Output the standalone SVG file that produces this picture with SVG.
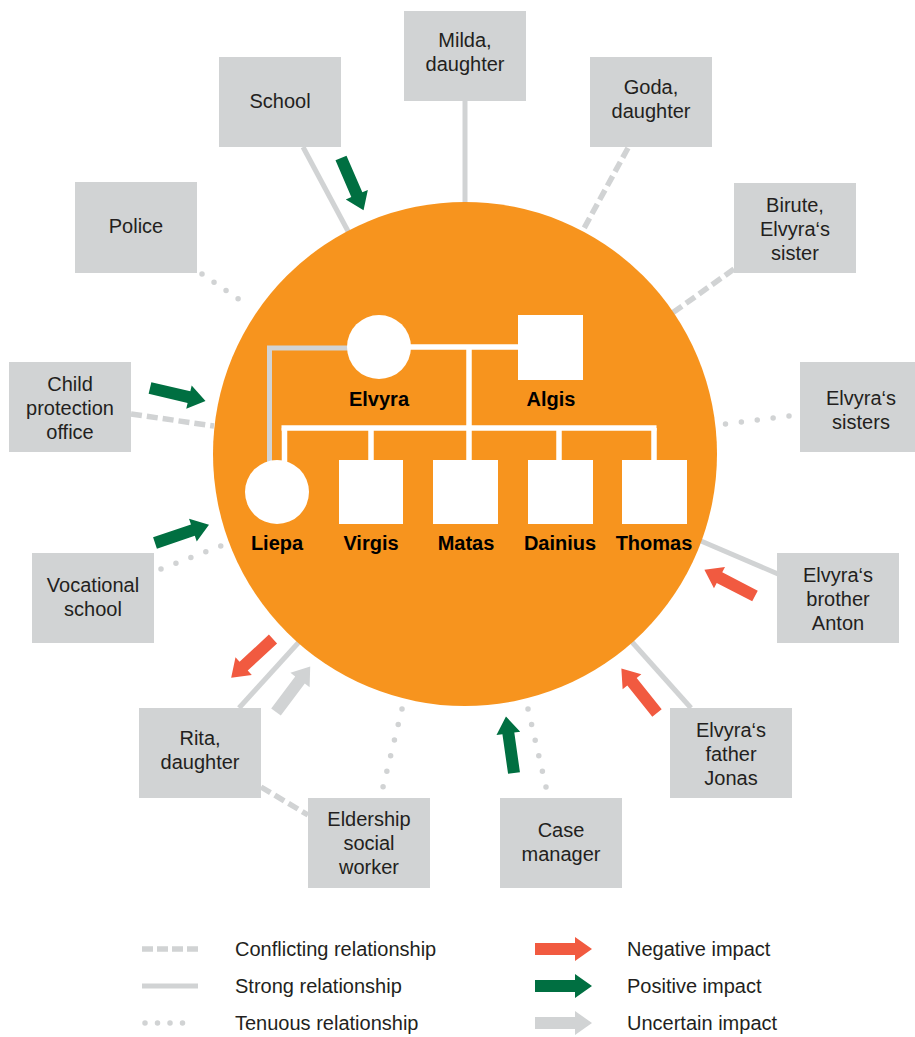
<svg xmlns="http://www.w3.org/2000/svg" xmlns:xlink="http://www.w3.org/1999/xlink" width="915" height="1037" viewBox="0 0 915 1037">
  <style>
    .box { fill: #D1D3D4; }
    .lbl { font-family: "Liberation Sans", Arial, sans-serif; font-size: 20px; fill: #231F20; text-anchor: middle; }
    .name { font-family: "Liberation Sans", Arial, sans-serif; font-size: 20px; font-weight: bold; fill: #000; text-anchor: middle; }
    .leg { font-family: "Liberation Sans", Arial, sans-serif; font-size: 20px; fill: #231F20; }
    .solid { stroke: #D1D3D4; stroke-width: 5; fill: none; }
    .dashed { stroke: #D1D3D4; stroke-width: 5.5; fill: none; stroke-dasharray: 11 5; }
    .dotted { stroke: #D1D3D4; stroke-width: 5.5; fill: none; stroke-dasharray: 0 16; stroke-linecap: round; }
    .tie { stroke: #FFFFFF; stroke-width: 5.5; fill: none; }
    .neg { fill: #F15A40; }
    .pos { fill: #006F41; }
    .unc { fill: #D1D3D4; }
  </style>
  <defs>
    <!-- block arrow pointing along +x, tail at origin, tip at x=57 -->
    <path id="arrow" d="M0,-6 H40 V-12 L57,0 L40,12 V6 H0 Z"/>
  </defs>

  <!-- relationship lines -->
  <g id="connectors">
    <line class="solid" x1="465" y1="101" x2="465" y2="204"/>
    <line class="dashed" x1="628" y1="148" x2="582" y2="232"/>
    <line class="solid" x1="303" y1="147" x2="349" y2="233"/>
    <line class="dotted" x1="202" y1="274" x2="250" y2="307" style="stroke-dasharray:0 14.6"/>
    <line class="dashed" x1="734" y1="269" x2="671" y2="314"/>
    <line class="dotted" x1="789" y1="416" x2="725" y2="424"/>
    <line class="dashed" x1="131" y1="414" x2="214" y2="426"/>
    <line class="dotted" x1="161" y1="569" x2="221" y2="546"/>
    <line class="solid" x1="701" y1="541" x2="778" y2="574"/>
    <line class="solid" x1="632" y1="642" x2="691" y2="708"/>
    <line class="dotted" x1="528" y1="709" x2="546" y2="787"/>
    <line class="dotted" x1="402" y1="709" x2="383" y2="787"/>
    <line class="solid" x1="239" y1="708" x2="299" y2="642"/>
    <line class="dashed" x1="261" y1="787" x2="308" y2="815"/>
  </g>

  <!-- household circle with genogram -->
  <g id="household">
    <circle cx="465" cy="454" r="252" fill="#F7941E"/>
    <polyline points="350,348 269.5,348 269.5,462" stroke="#D1D3D4" stroke-width="5" fill="none"/>
    <line class="tie" x1="400" y1="347" x2="520" y2="347"/>
    <line class="tie" x1="469" y1="347" x2="469" y2="428"/>
    <line class="tie" x1="281.5" y1="428" x2="656.5" y2="428"/>
    <line class="tie" x1="284.5" y1="428" x2="284.5" y2="462"/>
    <line class="tie" x1="371" y1="428" x2="371" y2="462"/>
    <line class="tie" x1="469" y1="428" x2="469" y2="462"/>
    <line class="tie" x1="559" y1="428" x2="559" y2="462"/>
    <line class="tie" x1="654" y1="428" x2="654" y2="462"/>
    <g id="elvyra">
      <circle cx="379" cy="347" r="32" fill="#FFFFFF"/>
      <text class="name" x="379" y="406">Elvyra</text>
    </g>
    <g id="algis">
      <rect x="518" y="315" width="65" height="65" fill="#FFFFFF"/>
      <text class="name" x="551" y="406">Algis</text>
    </g>
    <g id="liepa">
      <circle cx="277" cy="492" r="32" fill="#FFFFFF"/>
      <text class="name" x="277" y="550">Liepa</text>
    </g>
    <g id="virgis">
      <rect x="339" y="460" width="64" height="64" fill="#FFFFFF"/>
      <text class="name" x="371" y="550">Virgis</text>
    </g>
    <g id="matas">
      <rect x="433" y="460" width="65" height="64" fill="#FFFFFF"/>
      <text class="name" x="466" y="550">Matas</text>
    </g>
    <g id="dainius">
      <rect x="528" y="460" width="65" height="64" fill="#FFFFFF"/>
      <text class="name" x="560" y="550">Dainius</text>
    </g>
    <g id="thomas">
      <rect x="622" y="460" width="65" height="64" fill="#FFFFFF"/>
      <text class="name" x="654" y="550">Thomas</text>
    </g>
  </g>

  <!-- outside contacts -->
  <g id="milda">
    <rect class="box" x="404" y="11" width="122" height="90"/>
    <text class="lbl" x="465" y="47">Milda,</text>
    <text class="lbl" x="465" y="71">daughter</text>
  </g>
  <g id="goda">
    <rect class="box" x="590" y="57" width="122" height="90"/>
    <text class="lbl" x="651" y="94">Goda,</text>
    <text class="lbl" x="651" y="118">daughter</text>
  </g>
  <g id="school">
    <rect class="box" x="219" y="57" width="122" height="90"/>
    <text class="lbl" x="280" y="108">School</text>
  </g>
  <g id="police">
    <rect class="box" x="75" y="182" width="122" height="91"/>
    <text class="lbl" x="136" y="233">Police</text>
  </g>
  <g id="birute">
    <rect class="box" x="734" y="183" width="122" height="90"/>
    <text class="lbl" x="795" y="212">Birute,</text>
    <text class="lbl" x="795" y="236">Elvyra‘s</text>
    <text class="lbl" x="795" y="260">sister</text>
  </g>
  <g id="sisters">
    <rect class="box" x="800" y="362" width="122" height="90"/>
    <text class="lbl" x="861" y="405">Elvyra‘s</text>
    <text class="lbl" x="861" y="429">sisters</text>
  </g>
  <g id="child-protection">
    <rect class="box" x="9" y="362" width="122" height="90"/>
    <text class="lbl" x="70" y="391">Child</text>
    <text class="lbl" x="70" y="415">protection</text>
    <text class="lbl" x="70" y="439">office</text>
  </g>
  <g id="vocational">
    <rect class="box" x="32" y="553" width="122" height="90"/>
    <text class="lbl" x="93" y="592">Vocational</text>
    <text class="lbl" x="93" y="616">school</text>
  </g>
  <g id="anton">
    <rect class="box" x="777" y="553" width="122" height="90"/>
    <text class="lbl" x="838" y="582">Elvyra‘s</text>
    <text class="lbl" x="838" y="606">brother</text>
    <text class="lbl" x="838" y="630">Anton</text>
  </g>
  <g id="jonas">
    <rect class="box" x="670" y="708" width="122" height="90"/>
    <text class="lbl" x="731" y="737">Elvyra‘s</text>
    <text class="lbl" x="731" y="761">father</text>
    <text class="lbl" x="731" y="785">Jonas</text>
  </g>
  <g id="rita">
    <rect class="box" x="139" y="708" width="122" height="90"/>
    <text class="lbl" x="200" y="745">Rita,</text>
    <text class="lbl" x="200" y="769">daughter</text>
  </g>
  <g id="eldership">
    <rect class="box" x="308" y="798" width="122" height="90"/>
    <text class="lbl" x="369" y="826">Eldership</text>
    <text class="lbl" x="369" y="850">social</text>
    <text class="lbl" x="369" y="874">worker</text>
  </g>
  <g id="case-manager">
    <rect class="box" x="500" y="798" width="122" height="90"/>
    <text class="lbl" x="561" y="837">Case</text>
    <text class="lbl" x="561" y="861">manager</text>
  </g>

  <!-- impact arrows -->
  <g id="impacts">
    <use xlink:href="#arrow" class="pos" transform="translate(341,158) rotate(66.7)"/>
    <use xlink:href="#arrow" class="pos" transform="translate(150,388) rotate(13.1)"/>
    <use xlink:href="#arrow" class="pos" transform="translate(155,543) rotate(-18.7)"/>
    <use xlink:href="#arrow" class="neg" transform="translate(273,639) rotate(137.2)"/>
    <use xlink:href="#arrow" class="unc" transform="translate(276,712) rotate(-53.1)"/>
    <use xlink:href="#arrow" class="pos" transform="translate(514,773) rotate(-98.1)"/>
    <use xlink:href="#arrow" class="neg" transform="translate(657,713) rotate(-128.7)"/>
    <use xlink:href="#arrow" class="neg" transform="translate(755,596) rotate(-152.6)"/>
  </g>

  <!-- legend -->
  <g id="legend">
    <line class="dashed" x1="142" y1="949" x2="198" y2="949" style="stroke-dasharray:11 4"/>
    <text class="leg" x="235" y="956">Conflicting relationship</text>
    <line class="solid" x1="142" y1="986" x2="198" y2="986"/>
    <text class="leg" x="235" y="993">Strong relationship</text>
    <line class="dotted" x1="145" y1="1023" x2="195" y2="1023" style="stroke-dasharray:0 12.5"/>
    <text class="leg" x="235" y="1030">Tenuous relationship</text>
    <use xlink:href="#arrow" class="neg" transform="translate(535,949)"/>
    <text class="leg" x="627" y="956">Negative impact</text>
    <use xlink:href="#arrow" class="pos" transform="translate(535,986)"/>
    <text class="leg" x="627" y="993">Positive impact</text>
    <use xlink:href="#arrow" class="unc" transform="translate(535,1023)"/>
    <text class="leg" x="627" y="1030">Uncertain impact</text>
  </g>
</svg>
